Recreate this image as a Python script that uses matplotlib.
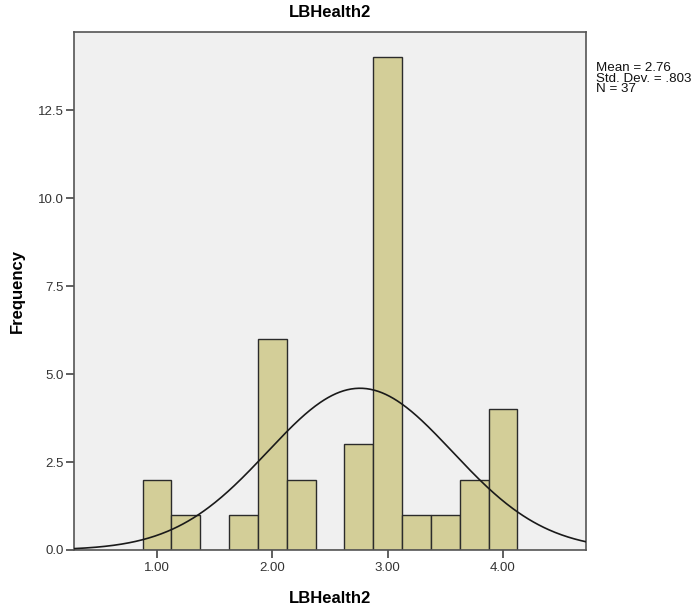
import numpy as np
import matplotlib
matplotlib.use('Agg')
import matplotlib.pyplot as plt

plt.rcParams['font.family'] = ['Liberation Sans', 'DejaVu Sans']

# histogram bins (width .25) and counts
bin_edges = [0.875, 1.125, 1.375, 1.625, 1.875, 2.125, 2.375, 2.625,
             2.875, 3.125, 3.375, 3.625, 3.875, 4.125]
counts = [2, 1, 0, 1, 6, 2, 0, 3, 14, 1, 1, 2, 4]
mean_val = 2.76
std_val = 0.803
n_val = 37
xticks = [1.0, 2.0, 3.0, 4.0]
xtick_labels = ['1.00', '2.00', '3.00', '4.00']
yticks = [0.0, 2.5, 5.0, 7.5, 10.0, 12.5]

fig = plt.figure(figsize=(6.94, 6.09), dpi=100)
ax = fig.add_axes([0.1066, 0.0969, 0.7378, 0.8506])
ax.set_facecolor('#f0f0f0')

lefts = bin_edges[:-1]
widths = np.diff(bin_edges)
ax.bar(lefts, counts, width=widths, align='edge', color='#d3ce98',
       edgecolor='#2b2b2b', linewidth=1.0, zorder=2)

xs = np.linspace(0.28, 4.72, 400)
bw = bin_edges[1] - bin_edges[0]
ys = n_val * bw / (std_val * np.sqrt(2 * np.pi)) * np.exp(-0.5 * ((xs - mean_val) / std_val) ** 2)
ax.plot(xs, ys, color='#1a1a1a', linewidth=1.2, zorder=3)

ax.set_xlim(0.28, 4.72)
ax.set_ylim(0, 14.72)
ax.set_xticks(xticks)
ax.set_xticklabels(xtick_labels)
ax.set_yticks(yticks)
ax.set_yticklabels(['0.0', '2.5', '5.0', '7.5', '10.0', '12.5'])
ax.tick_params(direction='out', length=6, width=1.2, color='#444444',
               labelsize=9.5, labelcolor='#333333', pad=1.5)
ax.tick_params(axis='x', pad=3)
for s in ax.spines.values():
    s.set_color('#555555')
    s.set_linewidth(1.2)

ax.set_title('LBHealth2', fontsize=12, fontweight='bold', pad=11)
ax.set_xlabel('LBHealth2', fontsize=12, fontweight='bold', labelpad=12)
ax.set_ylabel('Frequency', fontsize=12, fontweight='bold', labelpad=9)

fig.text(596 / 694, 1 - 62 / 609,
         'Mean = 2.76\nStd. Dev. = .803\nN = 37',
         fontsize=9.6, va='top', ha='left', linespacing=0.85, color='#111111')

fig.savefig('out.png', dpi=100)
